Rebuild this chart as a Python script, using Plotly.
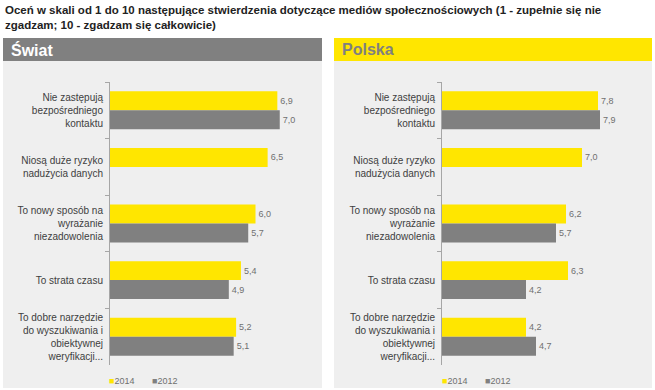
import plotly.graph_objects as go

categories = [
    "Nie zastępują<br>bezpośredniego<br>kontaktu",
    "Niosą duże ryzyko<br>nadużycia danych",
    "To nowy sposób na<br>wyrażanie<br>niezadowolenia",
    "To strata czasu",
    "To dobre narzędzie<br>do wyszukiwania i<br>obiektywnej<br>weryfikacji...",
]
swiat_2014 = [6.9, 6.5, 6.0, 5.4, 5.2]
swiat_2012 = [7.0, None, 5.7, 4.9, 5.1]
polska_2014 = [7.8, 7.0, 6.2, 6.3, 4.2]
polska_2012 = [7.9, None, 5.7, 4.2, 4.7]
series_names = ["2014", "2012"]
panel_titles = ["Świat", "Polska"]
title_text = ("Oceń w skali od 1 do 10 następujące stwierdzenia dotyczące mediów społecznościowych (1 - zupełnie się nie<br>"
              "zgadzam; 10 - zgadzam się całkowicie)")

YELLOW = "#ffe600"
GRAY = "#808080"
BG = "#efefef"
W, H = 655, 390
FONT = "Liberation Sans, Arial, sans-serif"


def fmt(vals):
    return [("" if v is None else f"{v:.1f}".replace(".", ",")) for v in vals]


def px(x):
    return x / W


def py(y):
    return 1 - y / H


fig = go.Figure()
panels = [
    (swiat_2014, swiat_2012, "x", "y"),
    (polska_2014, polska_2012, "x2", "y2"),
]
for vals14, vals12, xa, ya in panels:
    for name, vals, col in [(series_names[0], vals14, YELLOW), (series_names[1], vals12, GRAY)]:
        fig.add_trace(go.Bar(
            y=categories, x=vals, orientation="h", name=name,
            marker=dict(color=col, line=dict(width=0)),
            text=fmt(vals), textposition="outside", cliponaxis=False,
            textfont=dict(family=FONT, size=9, color="#707070"),
            xaxis=xa, yaxis=ya, showlegend=False,
        ))

ydom = [py(365), py(82)]
axis_common = dict(showgrid=False, zeroline=False, showticklabels=False, ticks="",
                   showline=False, fixedrange=True)
yaxis_common = dict(autorange="reversed", showline=True, linecolor="#a6a6a6", linewidth=1,
                    ticks="outside", tickson="boundaries", ticklen=4, tickcolor="#a6a6a6",
                    ticklabelstandoff=4,
                    tickfont=dict(family=FONT, size=10, color="#404040"),
                    domain=ydom, fixedrange=True)

fig.update_layout(
    width=W, height=H,
    margin=dict(l=0, r=0, t=0, b=0),
    paper_bgcolor="white", plot_bgcolor="rgba(0,0,0,0)",
    barmode="group", bargap=0.33, bargroupgap=0,
    xaxis=dict(domain=[px(110), px(304)], range=[0, 8], **axis_common),
    xaxis2=dict(domain=[px(442), px(622)], range=[0, 9], **axis_common),
    yaxis=dict(anchor="x", **yaxis_common),
    yaxis2=dict(anchor="x2", **yaxis_common),
    showlegend=False,
)

shapes = []
annotations = []
# panel backgrounds and headers
for (x0, x1), hcol, tcol, title in [((3, 322), GRAY, "white", panel_titles[0]),
                                    ((334, 652), YELLOW, GRAY, panel_titles[1])]:
    shapes.append(dict(type="rect", xref="paper", yref="paper", layer="below",
                       x0=px(x0), x1=px(x1), y0=py(388), y1=py(61),
                       fillcolor=BG, line=dict(width=0)))
    shapes.append(dict(type="rect", xref="paper", yref="paper", layer="below",
                       x0=px(x0), x1=px(x1), y0=py(61), y1=py(38),
                       fillcolor=hcol, line=dict(width=0)))
    annotations.append(dict(xref="paper", yref="paper", x=px(x0 + 6), y=py(49.5),
                            xanchor="left", yanchor="middle", showarrow=False,
                            text=f"<b>{title}</b>",
                            font=dict(family=FONT, size=16, color=tcol)))

# legends
for lx in (107, 440):
    annotations.append(dict(xref="paper", yref="paper", x=px(lx), y=py(381),
                            xanchor="left", yanchor="middle", showarrow=False,
                            text=(f"<span style='color:{YELLOW}'>■</span>{series_names[0]}"
                                  f"&nbsp;&nbsp;&nbsp;&nbsp;&nbsp;&nbsp;&nbsp;"
                                  f"<span style='color:{GRAY}'>■</span>{series_names[1]}"),
                            font=dict(family=FONT, size=9, color="#707070")))

# title
annotations.append(dict(xref="paper", yref="paper", x=px(3), y=py(2),
                        xanchor="left", yanchor="top", align="left", showarrow=False,
                        text=f"<b>{title_text}</b>",
                        font=dict(family=FONT, size=11.5, color="#222222")))

fig.update_layout(shapes=shapes, annotations=annotations)
fig.write_html("out.html", config={"displayModeBar": False},
               post_script="document.body.style.margin='0px';document.body.style.padding='0px';")
